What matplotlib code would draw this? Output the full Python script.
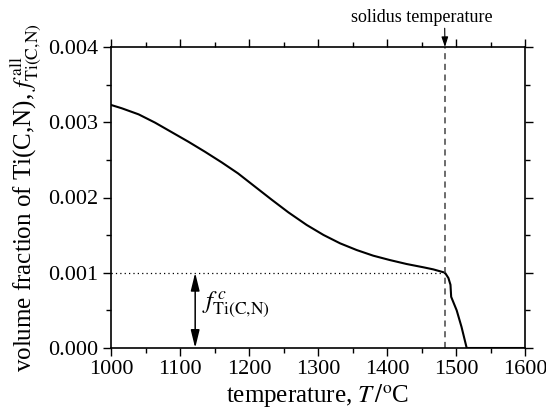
import matplotlib
matplotlib.use('Agg')
import matplotlib.pyplot as plt
from matplotlib.ticker import MultipleLocator

plt.rcParams['font.family'] = ['Liberation Serif', 'DejaVu Serif']
plt.rcParams['mathtext.fontset'] = 'stix'

# curve
temp = [1000, 1015.5, 1040, 1063.8, 1088, 1112, 1136, 1160.4, 1184, 1208.7, 1233,
        1257, 1283.6, 1308, 1332, 1356, 1380, 1404, 1428.5, 1453, 1467,
        1484, 1489, 1492, 1493, 1501, 1508, 1515.5, 1600]
frac = [0.00323, 0.003186, 0.003105, 0.002995, 0.002868, 0.002742, 0.002609, 0.002467,
        0.002321, 0.002144, 0.00197, 0.001803, 0.001635, 0.001502, 0.001391, 0.001302,
        0.001227, 0.001169, 0.001116, 0.001072, 0.001045,
        0.001001, 0.00093, 0.00084, 0.00068, 0.00050, 0.00028, 0.0, 0.0]
solidus_T = 1484
f_c = 0.001
arrow_T = 1122

fig = plt.figure(figsize=(5.46, 4.12), dpi=100)
ax = fig.add_axes([111/546, 1-348/412, (525-111)/546, (348-47)/412])

ax.plot(temp, frac, color='black', lw=1.5)
ax.axvline(solidus_T, color='#444444', ls=(0, (4, 3)), lw=1.1)
ax.plot([1000, solidus_T], [f_c, f_c], color='black', ls=(0, (1, 2.5)), lw=0.9)
ax.annotate('', xy=(arrow_T, f_c), xytext=(arrow_T, 0),
            arrowprops=dict(arrowstyle='<|-|>,head_length=0.9,head_width=0.22',
                            color='black', lw=1.1,
                            mutation_scale=12, shrinkA=0, shrinkB=0))
ax.text(arrow_T + 10, 0.00058, r'$f^{\,c}_{\mathrm{Ti(C{,}N)}}$', fontsize=18,
        va='center', ha='left')

ax.annotate('solidus temperature', xy=(solidus_T, 0.004), xycoords='data',
            xytext=(422, 412 - 17), textcoords='figure pixels',
            ha='center', va='center', fontsize=13,
            arrowprops=dict(arrowstyle='-|>,head_length=0.6,head_width=0.2',
                            color='black', lw=0.8,
                            mutation_scale=10, shrinkA=0, shrinkB=0,
                            relpos=(0.66, 0)))

ax.set_xlim(1000, 1600)
ax.set_ylim(0, 0.004)
ax.xaxis.set_major_locator(MultipleLocator(100))
ax.xaxis.set_minor_locator(MultipleLocator(50))
ax.yaxis.set_major_locator(MultipleLocator(0.001))
ax.yaxis.set_minor_locator(MultipleLocator(0.0005))
ax.yaxis.set_major_formatter(plt.FormatStrFormatter('%.3f'))
ax.tick_params(which='both', direction='out', top=True, right=True,
               labeltop=False, labelright=False, labelsize=16, width=1.0)
ax.tick_params(which='major', length=6, pad=3)
ax.tick_params(which='minor', length=3.5)
for s in ax.spines.values():
    s.set_linewidth(1.2)

ax.set_xlabel(r'temperature, $T\,/^{\mathrm{o}}$C', fontsize=18, labelpad=2)
ax.set_ylabel(r'volume fraction of Ti(C,N), $f^{\,\mathrm{all}}_{\mathrm{Ti(C{,}N)}}$',
              fontsize=18, labelpad=4)

fig.savefig('out.png', dpi=100)
